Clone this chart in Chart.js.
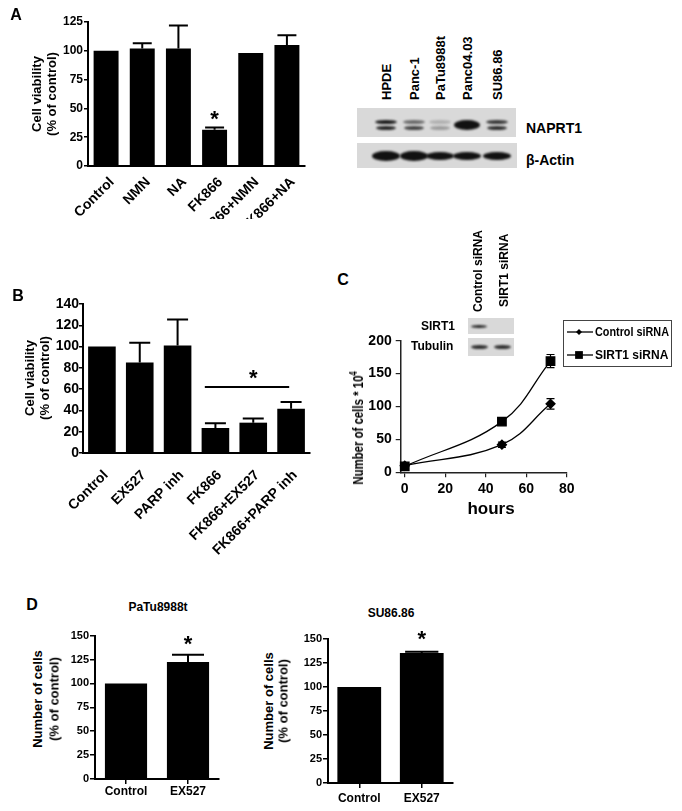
<!DOCTYPE html>
<html>
<head>
<meta charset="utf-8">
<script src="https://cdn.jsdelivr.net/npm/chart.js@4/dist/chart.umd.min.js"></script>
<style>
  body { margin: 0; background: #fff; }
  #page { position: relative; width: 682px; height: 811px; overflow: hidden;
          font-family: "Liberation Sans", Arial, sans-serif; font-weight: bold; color: #000; }
  canvas { position: absolute; }
  .t { position: absolute; white-space: nowrap; line-height: 1; z-index: 3; }
  .blot { position: absolute; background: #d9d9d9; z-index: 2; overflow: hidden; }
  .band { position: absolute; background: #111; border-radius: 50%; filter: blur(1px); }
</style>
</head>
<body>
<div id="page">
  <canvas id="chartA" width="320" height="219" style="left:0;top:0"></canvas>
  <canvas id="chartB" width="330" height="280" style="left:0;top:280px"></canvas>
  <canvas id="chartC" width="352" height="230" style="left:330px;top:300px"></canvas>
  <canvas id="chartD1" width="175" height="191" style="left:60px;top:620px"></canvas>
  <canvas id="chartD2" width="180" height="191" style="left:290px;top:620px"></canvas>
</div>
<script>
// ---- data ----
const catsA = ['Control', 'NMN', 'NA', 'FK866', 'FK866+NMN', 'FK866+NA'];
const valsA = [100, 102, 102, 31.5, 98, 105];
const errTopA = [null, 106.5, 122, 33.5, null, 113.5];
const starsA = [3];

const catsB = ['Control', 'EX527', 'PARP inh', 'FK866', 'FK866+EX527', 'FK866+PARP inh'];
const valsB = [100, 85, 101, 23.5, 28.5, 41.5];
const errTopB = [null, 103.5, 125.5, 28, 32.5, 48];
const sigLineB = { from: 3, to: 5, value: 62 };

const hoursC = [0, 48, 72];
const controlC = [10, 42, 104];
const controlErrC = [2, 4, 8];
const sirt1C = [9, 77, 169];
const sirt1ErrC = [2, 3, 10];
const ticksCx = [0, 20, 40, 60, 80];

const catsD = ['Control', 'EX527'];
const valsD1 = [100, 122.5];
const errTopD1 = [null, 130];
const valsD2 = [100, 135.5];
const errTopD2 = [null, 136.8];
const starsD = [1];

const FONT = '"Liberation Sans", Arial, sans-serif';

// error bars, stars and significance line for the bar panels
const barMarks = {
  id: 'barMarks',
  afterDatasetsDraw(chart, args, opts) {
    const ctx = chart.ctx;
    const xs = chart.scales.x, ys = chart.scales.y;
    const meta = chart.getDatasetMeta(0);
    const vals = chart.data.datasets[0].data;
    const tops = opts.errTop || [];
    ctx.save();
    ctx.strokeStyle = '#000';
    ctx.lineWidth = opts.lineWidth || 2;
    tops.forEach((top, i) => {
      if (top == null) return;
      const bar = meta.data[i];
      const half = bar.width * 0.38;
      const yt = ys.getPixelForValue(top);
      ctx.beginPath();
      ctx.moveTo(bar.x, bar.y);
      ctx.lineTo(bar.x, yt);
      ctx.moveTo(bar.x - half, yt);
      ctx.lineTo(bar.x + half, yt);
      ctx.stroke();
    });
    const size = opts.starSize || 22;
    ctx.fillStyle = '#000';
    ctx.font = 'bold ' + size + 'px ' + FONT;
    ctx.textAlign = 'center';
    ctx.textBaseline = 'alphabetic';
    const star = (x, cy) => ctx.fillText('*', x, cy + size * 0.6);
    (opts.stars || []).forEach(i => {
      const top = Math.max(vals[i], tops[i] || 0);
      star(meta.data[i].x, ys.getPixelForValue(top) - opts.starGap);
    });
    if (opts.sig) {
      const s = opts.sig;
      const y = ys.getPixelForValue(s.value);
      ctx.lineWidth = 2;
      ctx.beginPath();
      ctx.moveTo(xs.getPixelForValue(s.from - 0.28), y);
      ctx.lineTo(xs.getPixelForValue(s.to - 0.05), y);
      ctx.stroke();
      star(xs.getPixelForValue((s.from + s.to) / 2), y - opts.starGap);
    }
    ctx.restore();
  }
};

function barChart(id, cats, vals, o) {
  const tickFont = { family: FONT, weight: 'bold', size: o.tickSize };
  return new Chart(document.getElementById(id), {
    type: 'bar',
    data: {
      labels: cats,
      datasets: [{ data: vals, backgroundColor: '#000', borderWidth: 0,
                   barPercentage: o.barPct, categoryPercentage: 1 }]
    },
    options: {
      responsive: false,
      animation: false,
      layout: { padding: { top: o.padTop, right: o.padRight, left: 0, bottom: 0 } },
      plugins: {
        legend: { display: false },
        tooltip: { enabled: false },
        barMarks: { errTop: o.errTop, stars: o.stars, sig: o.sig, starGap: o.starGap, lineWidth: 2 }
      },
      scales: {
        x: {
          grid: { display: o.xTicks, drawOnChartArea: false, offset: false, color: '#000', tickLength: 5, lineWidth: 1.5 },
          border: { color: '#000', width: 2 },
          ticks: { color: '#000', font: { family: FONT, weight: 'bold', size: o.xSize },
                   maxRotation: o.rot, minRotation: o.rot, autoSkip: false, padding: o.xPad,
                   labelOffset: o.xShift || 0 },
          afterFit: s => { s.height = o.xH; }
        },
        y: {
          min: 0, max: o.max,
          ticks: { stepSize: o.step, color: '#000', font: tickFont, padding: o.yPad },
          grid: { drawOnChartArea: false, color: '#000', tickLength: o.tickLen, lineWidth: 1.5 },
          border: { color: '#000', width: 2 },
          afterFit: s => { s.width = o.yW; }
        }
      }
    },
    plugins: [barMarks]
  });
}

barChart('chartA', catsA, valsA, {
  barPct: 0.69, padTop: 22, padRight: 15, xH: 53, yW: 88, max: 125, step: 25,
  tickSize: 12, xSize: 14, rot: 45, xPad: 3, xShift: 6, xTicks: false, yPad: 1, tickLen: 4,
  errTop: errTopA, stars: starsA, starGap: 15
});

barChart('chartB', catsB, valsB, {
  barPct: 0.73, padTop: 24, padRight: 20, xH: 107, yW: 83, max: 140, step: 20,
  tickSize: 14, xSize: 14, rot: 45, xPad: 9, xShift: 4, xTicks: false, yPad: 0, tickLen: 4,
  errTop: errTopB, sig: sigLineB, starGap: 15
});

barChart('chartD1', catsD, valsD1, {
  barPct: 0.68, padTop: 15.7, padRight: 16, xH: 32, yW: 35, max: 150, step: 25,
  tickSize: 11, xSize: 12, rot: 0, xPad: 0, xTicks: true, yPad: 1, tickLen: 5,
  errTop: errTopD1, stars: starsD, starGap: 17
});

barChart('chartD2', catsD, valsD2, {
  barPct: 0.70, padTop: 19, padRight: 17, xH: 28, yW: 38, max: 150, step: 25,
  tickSize: 11, xSize: 12, rot: 0, xPad: 3, xTicks: true, yPad: 1, tickLen: 5,
  errTop: errTopD2, stars: starsD, starGap: 19
});

// ---- panel C: growth curves ----
const lineErrors = {
  id: 'lineErrors',
  afterDatasetsDraw(chart) {
    const ctx = chart.ctx, ys = chart.scales.y;
    ctx.save();
    ctx.strokeStyle = '#000';
    ctx.lineWidth = 1.2;
    chart.data.datasets.forEach((ds, di) => {
      const meta = chart.getDatasetMeta(di);
      ds.data.forEach((p, i) => {
        const e = ds.errs[i];
        const pt = meta.data[i];
        const y1 = ys.getPixelForValue(p.y - e), y2 = ys.getPixelForValue(p.y + e);
        ctx.beginPath();
        ctx.moveTo(pt.x, y1); ctx.lineTo(pt.x, y2);
        ctx.moveTo(pt.x - 4, y1); ctx.lineTo(pt.x + 4, y1);
        ctx.moveTo(pt.x - 4, y2); ctx.lineTo(pt.x + 4, y2);
        ctx.stroke();
      });
    });
    ctx.restore();
  }
};

const boxLegend = {
  id: 'boxLegend',
  afterDraw(chart, args, o) {
    const ctx = chart.ctx;
    ctx.save();
    ctx.strokeStyle = '#444';
    ctx.lineWidth = 1;
    ctx.strokeRect(o.x + 0.5, o.y + 0.5, o.w, o.h);
    ctx.font = 'bold 12px ' + FONT;
    ctx.textBaseline = 'middle';
    ctx.fillStyle = '#000';
    chart.data.datasets.forEach((ds, i) => {
      const yy = o.y + o.first + i * o.gap;
      ctx.strokeStyle = '#000';
      ctx.lineWidth = 1.3;
      ctx.beginPath();
      ctx.moveTo(o.x + 4, yy);
      ctx.lineTo(o.x + 30, yy);
      ctx.stroke();
      Chart.helpers.drawPoint(ctx, { pointStyle: ds.pointStyle, radius: ds.legendRadius, borderWidth: 0, rotation: 0 }, o.x + 16, yy);
      ctx.fillStyle = '#000';
      ctx.fillText(ds.label, o.x + 32, yy + 1, 74);
    });
    ctx.restore();
  }
};

const tickFontC = { family: FONT, weight: 'bold', size: 14 };
new Chart(document.getElementById('chartC'), {
  type: 'line',
  data: {
    datasets: [
      { label: 'Control siRNA', data: hoursC.map((h, i) => ({ x: h, y: controlC[i] })), errs: controlErrC,
        borderColor: '#000', borderWidth: 1.3, backgroundColor: '#000', pointBackgroundColor: '#000',
        pointStyle: 'rectRot', pointRadius: 4.5, legendRadius: 3, tension: 0.4, clip: false },
      { label: 'SIRT1 siRNA', data: hoursC.map((h, i) => ({ x: h, y: sirt1C[i] })), errs: sirt1ErrC,
        borderColor: '#000', borderWidth: 1.3, backgroundColor: '#000', pointBackgroundColor: '#000',
        pointStyle: 'rect', pointRadius: 6, legendRadius: 5.5, tension: 0.4, clip: false }
    ]
  },
  options: {
    responsive: false,
    animation: false,
    layout: { padding: { top: 40.7, right: 115.3, left: 0, bottom: 0 } },
    plugins: {
      legend: { display: false },
      tooltip: { enabled: false },
      boxLegend: { x: 233, y: 20, w: 108, h: 46, first: 12, gap: 23 }
    },
    scales: {
      x: {
        type: 'linear', min: -2, max: 80,
        ticks: { stepSize: 20, includeBounds: false, color: '#000', font: tickFontC, padding: 3 },
        afterBuildTicks: s => { s.ticks = ticksCx.map(v => ({ value: v })); },
        grid: { drawOnChartArea: false, color: '#222', tickLength: 5, lineWidth: 1.2 },
        border: { color: '#222', width: 1.5 },
        afterFit: s => { s.height = 57.7; }
      },
      y: {
        min: 0, max: 200,
        ticks: { stepSize: 50, color: '#000', font: tickFontC, padding: 4 },
        grid: { drawOnChartArea: false, color: '#222', tickLength: 5, lineWidth: 1.2 },
        border: { color: '#222', width: 1.5 },
        afterFit: s => { s.width = 70.7; }
      }
    }
  },
  plugins: [lineErrors, boxLegend]
});

// ---- texts and blots ----
const page = document.getElementById('page');
function label(text, x, y, size, transform, origin) {
  const d = document.createElement('div');
  d.className = 't';
  d.innerHTML = text;
  d.style.fontSize = size + 'px';
  d.style.left = x + 'px';
  d.style.top = y + 'px';
  d.style.transform = transform;
  if (origin) d.style.transformOrigin = origin;
  page.appendChild(d);
}
const CENTER = 'translate(-50%,-50%)';
const VCENTER = 'translate(-50%,-50%) rotate(-90deg)';
const LANE = 'rotate(-90deg) translateY(-50%)';
const LEFT = 'translateY(-50%)';
const RIGHT = 'translate(-100%,-50%)';

label('A', 16, 15, 16, CENTER);
label('B', 18, 296, 16, CENTER);
label('C', 343, 280, 16, CENTER);
label('D', 32, 605, 16, CENTER);

label('Cell viability', 36, 94, 13, VCENTER);
label('(% of control)', 51, 94, 13, VCENTER);
label('Cell viability', 29, 378, 13, VCENTER);
label('(% of control)', 44, 378, 13, VCENTER);
label('Number of cells * 10<sup style="font-size:10px">4</sup>', 357, 428, 15, VCENTER + ' scaleX(0.76)');
label('hours', 491, 508, 17, CENTER);

label('PaTu8988t', 158, 607, 12, CENTER);
label('SU86.86', 391, 613, 12, CENTER);
label('Number of cells', 37, 699, 13, VCENTER);
label('(% of control)', 54, 699, 13, VCENTER);
label('Number of cells', 268, 701, 13, VCENTER);
label('(% of control)', 283, 701, 13, VCENTER);

// western blot, panel A
const lanesA = ['HPDE', 'Panc-1', 'PaTu8988t', 'Panc04.03', 'SU86.86'];
const laneXA = [386, 414, 440, 467, 497];
lanesA.forEach((n, i) => label(n, laneXA[i], 100, 13, LANE, '0 0'));
label('NAPRT1', 526, 128, 14, LEFT);
label('β-Actin', 526, 160, 14, LEFT);

function blot(x, y, w, h) {
  const b = document.createElement('div');
  b.className = 'blot';
  b.style.left = x + 'px'; b.style.top = y + 'px';
  b.style.width = w + 'px'; b.style.height = h + 'px';
  page.appendChild(b);
  return b;
}
function band(b, cx, cy, w, h, a) {
  const d = document.createElement('div');
  d.className = 'band';
  d.style.left = (cx - w / 2) + 'px'; d.style.top = (cy - h / 2) + 'px';
  d.style.width = w + 'px'; d.style.height = h + 'px';
  d.style.opacity = a;
  b.appendChild(d);
}
const naprt = blot(357, 108, 159, 29);
const upperA = [0.95, 0.55, 0.2, 1, 0.8];
const lowerA = [0.9, 0.75, 0.3, 1, 0.85];
laneXA.forEach((x, i) => {
  if (i === 3) { band(naprt, x - 357, 17, 26, 10, 1); return; }
  band(naprt, x - 357, 14, 22, 4, upperA[i]);
  band(naprt, x - 357, 20, 20, 4, lowerA[i]);
});
const actin = blot(357, 143, 160, 25);
laneXA.forEach((x, i) => band(actin, x - 357, 13, 28, i < 2 ? 10 : 8, 1));

// inset blot, panel C
label('Control siRNA', 478, 312, 12, LANE, '0 0');
label('SIRT1 siRNA', 504, 307, 12, LANE, '0 0');
label('SIRT1', 455, 326, 12, RIGHT);
label('Tubulin', 411, 346, 12, LEFT);
const sirt = blot(468, 318, 46, 16);
band(sirt, 11, 8, 16, 3, 0.9);
const tub = blot(468, 338, 46, 18);
band(tub, 11, 9, 17, 4, 0.85);
band(tub, 34, 9, 17, 4, 0.85);
</script>
</body>
</html>
